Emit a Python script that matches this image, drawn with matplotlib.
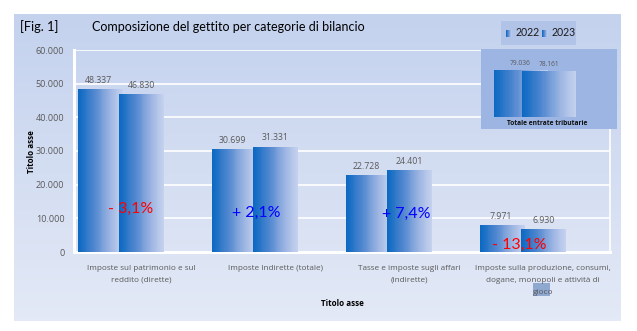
import numpy as np
import matplotlib
matplotlib.use("Agg")
import matplotlib.pyplot as plt
from matplotlib.colors import LinearSegmentedColormap
from matplotlib.ticker import FuncFormatter, MultipleLocator

W, H = 637, 331

categories = [
    "Imposte sul patrimonio e sul\nreddito (dirette)",
    "Imposte Indirette (totale)",
    "Tasse e imposte sugli affari\n(indirette)",
    "Imposte sulla produzione, consumi,\ndogane, monopoli e attività di\ngioco",
]
years = ["2022", "2023"]
values_2022 = [48337, 30699, 22728, 7971]
values_2023 = [46830, 31331, 24401, 6930]

total_label = "Totale entrate tributarie"
total_2022 = 79036
total_2023 = 78161

# where the change labels sit, relative to each category centre (x offset, y value)
pct_pos = [(-0.075, 12800), (-0.14, 11600), (-0.02, 11300), (-0.18, 2100)]

GRAY = "#595959"
bar_cmap = LinearSegmentedColormap.from_list(
    "bar", [(0.0, "#0B69C2"), (0.35, "#4F86CF"), (0.75, "#A3B9E4"), (1.0, "#C4D1EE")])
N_SLICES = 48


def px_rect(x0, y0, x1, y1):
    """pixel box (top-left origin) -> figure fraction rect"""
    return [x0 / W, 1 - y1 / H, (x1 - x0) / W, (y1 - y0) / H]


def fmt_thousands(v):
    return f"{int(round(v)):,}".replace(",", ".")


def gradient_bar(ax, left, width, height, z=3, bottom=0):
    # horizontal gradient built from thin vertical slices
    sw = width / N_SLICES
    xs = left + sw * np.arange(N_SLICES)
    cols = bar_cmap(np.linspace(0, 1, N_SLICES))
    ax.bar(xs, height, width=sw * 1.02, bottom=bottom, align="edge",
           color=cols, linewidth=0, zorder=z)


def blank(a):
    a.set_xticks([]); a.set_yticks([])
    for s in a.spines.values():
        s.set_visible(False)


fig = plt.figure(figsize=(W / 100, H / 100), dpi=100)
fig.patch.set_facecolor("white")

# panel background with vertical gradient
bg = fig.add_axes(px_rect(14, 14, 621, 321))
bg_cmap = LinearSegmentedColormap.from_list("bg", ["#C4D2EE", "#E3E9F6"])
bg.imshow(np.linspace(0, 1, 100).reshape(-1, 1), cmap=bg_cmap, aspect="auto",
          extent=[0, 1, 0, 1])
bg.set_axis_off()

fig.text(20 / W, 1 - 27 / H, "[Fig. 1]", fontsize=9.3, family="Lato",
         va="center", ha="left", color="black")
fig.text(92 / W, 1 - 27 / H, "Composizione del gettito per categorie di bilancio",
         fontsize=9.0, family="Lato", va="center", ha="left", color="black")

# selection highlight behind "gio"
hl = fig.add_axes(px_rect(533, 283, 550, 296))
hl.set_facecolor("#8FA8D0")
blank(hl)

# main chart
ax = fig.add_axes(px_rect(74, 50, 610, 252))
ax.set_facecolor("none")
ax.yaxis.set_major_locator(MultipleLocator(10000))
ax.yaxis.set_major_formatter(FuncFormatter(lambda v, p: fmt_thousands(v)))
for yv in range(10000, 60001, 10000):
    ax.axhline(yv, color="white", linewidth=1.2, zorder=1)
ax.spines["top"].set_visible(False)
ax.spines["left"].set_color("white")
ax.spines["left"].set_linewidth(2.2)
ax.spines["bottom"].set_color("white")
ax.spines["bottom"].set_linewidth(2.2)
ax.spines["right"].set_color("white")
ax.spines["right"].set_linewidth(1.2)
ax.tick_params(length=0, colors=GRAY, labelsize=6.5)
ax.tick_params(axis="y", pad=7)
ax.tick_params(axis="x", pad=9)
ax.set_xticks(range(len(categories)))
ax.set_xticklabels(categories, fontsize=5.9, color=GRAY, linespacing=2.05,
                   family="Open Sans", va="top")
for t in ax.get_yticklabels():
    t.set_family("Open Sans")

bw = 0.336
for i, (a, b) in enumerate(zip(values_2022, values_2023)):
    l1 = i - 0.47
    l2 = i - 0.164
    gradient_bar(ax, l1, bw, a, z=3)
    gradient_bar(ax, l2, bw, b, z=4)
    ax.text(l1 + bw / 2 - 0.015, a + 1200, fmt_thousands(a), ha="center", va="bottom",
            fontsize=6.3, color=GRAY, family="Open Sans", zorder=6)
    ax.text(l2 + bw / 2, b + 1200, fmt_thousands(b), ha="center", va="bottom",
            fontsize=6.3, color=GRAY, family="Open Sans", zorder=6)
    pct = (b - a) / a * 100
    sign = "+" if pct >= 0 else "-"
    txt = f"{sign} {abs(pct):.1f}%".replace(".", ",")
    dx, yy = pct_pos[i]
    ax.text(i + dx, yy, txt, ha="center", va="center", fontsize=11.5,
            color="#0000FF" if pct >= 0 else "#FF0000",
            family="Lato", zorder=7)

ax.set_xlim(-0.5, 3.5)
ax.set_ylim(0, 60000)

fig.text(32 / W, 1 - 152 / H, "Titolo asse", rotation=90, fontsize=5.8,
         fontweight="bold", ha="center", va="center", family="Open Sans")
fig.text(342 / W, 1 - 304 / H, "Titolo asse", fontsize=5.8, fontweight="bold",
         ha="center", va="center", family="Open Sans")

# legend box
lg = fig.add_axes(px_rect(501, 21, 576, 45))
lg.set_facecolor("#B2C3E8")
blank(lg)
for yr, x0 in zip(years, [5, 41]):
    gradient_bar(lg, x0, 6, 7, bottom=8.5)
    lg.text(x0 + 9.5, 12, yr, fontsize=7.6, va="center", ha="left",
            family="Lato", color="#1A1A1A")
lg.set_xlim(0, 75); lg.set_ylim(0, 24)

# total inset
box = fig.add_axes(px_rect(481, 49, 617, 129))
box.set_facecolor("#9CB5E3")
blank(box)
box.text(0.49, 0.07, total_label, transform=box.transAxes, fontsize=4.8,
         fontweight="bold", ha="center", va="center", family="Open Sans",
         color="#111111")

inset = fig.add_axes(px_rect(481, 60, 617, 117))
inset.set_facecolor("none")
inset.set_axis_off()
iw = 54 / 136
il1 = (494 - 481) / 136 - 0.5
il2 = (522 - 481) / 136 - 0.5
gradient_bar(inset, il1, iw, total_2022, z=3)
gradient_bar(inset, il2, iw, total_2023, z=4)
inset.text(il1 + iw / 2 - 0.005, total_2022 + 4500, fmt_thousands(total_2022),
           fontsize=4.8, color=GRAY, ha="center", va="bottom", family="Open Sans")
inset.text(il2 + iw / 2, total_2023 + 4500, fmt_thousands(total_2023),
           fontsize=4.8, color=GRAY, ha="center", va="bottom", family="Open Sans")
inset.set_xlim(-0.5, 0.5)
inset.set_ylim(0, 96000)

fig.savefig("out.png", dpi=100)
